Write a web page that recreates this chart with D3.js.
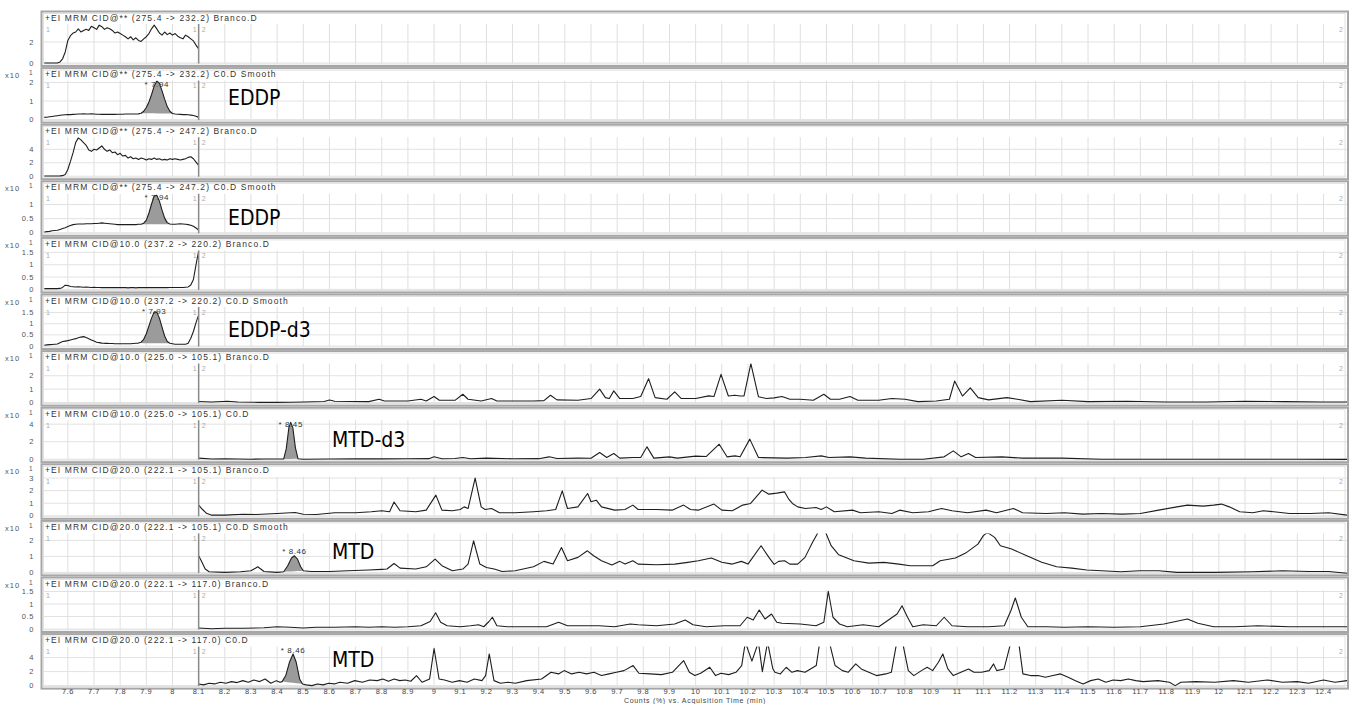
<!DOCTYPE html>
<html>
<head>
<meta charset="utf-8">
<script src="https://cdn.jsdelivr.net/npm/d3@7/dist/d3.min.js"></script>
<style>
    body { margin: 0; background: #fff; }
    svg { display: block; font-family: 'Liberation Sans', Arial, sans-serif; }
</style>
</head>
<body>
<svg id="chart" width="1352" height="704"></svg>
<script>
// ---- data ----
const titles = [
    '+EI MRM CID@** (275.4 -> 232.2) Branco.D',
    '+EI MRM CID@** (275.4 -> 232.2) C0.D  Smooth',
    '+EI MRM CID@** (275.4 -> 247.2) Branco.D',
    '+EI MRM CID@** (275.4 -> 247.2) C0.D  Smooth',
    '+EI MRM CID@10.0 (237.2 -> 220.2) Branco.D',
    '+EI MRM CID@10.0 (237.2 -> 220.2) C0.D  Smooth',
    '+EI MRM CID@10.0 (225.0 -> 105.1) Branco.D',
    '+EI MRM CID@10.0 (225.0 -> 105.1) C0.D',
    '+EI MRM CID@20.0 (222.1 -> 105.1) Branco.D',
    '+EI MRM CID@20.0 (222.1 -> 105.1) C0.D  Smooth',
    '+EI MRM CID@20.0 (222.1 -> 117.0) Branco.D',
    '+EI MRM CID@20.0 (222.1 -> 117.0) C0.D'
];
const times10 = [false, true, false, true, true, true, true, true, true, true, true, false];
const yMax = [3.71, 2.1, 5.8, 1.38, 1.58, 1.75, 2.9, 4.45, 3.1, 2.44, 1.56, 5.57];
const yTicks = [[0, 2], [0, 1, 2], [0, 2, 4], [0, 0.5, 1], [0, 0.5, 1, 1.5], [0, 0.5, 1, 1.5],
    [0, 1, 2], [0, 2, 4], [0, 1, 2, 3], [0, 1, 2], [0, 0.5, 1, 1.5], [0, 2, 4]];
const xTicks = [7.6, 7.7, 7.8, 7.9, 8, 8.1, 8.2, 8.3, 8.4, 8.5, 8.6, 8.7, 8.8, 8.9, 9, 9.1, 9.2, 9.3, 9.4,
    9.5, 9.6, 9.7, 9.8, 9.9, 10, 10.1, 10.2, 10.3, 10.4, 10.5, 10.6, 10.7, 10.8, 10.9, 11, 11.1, 11.2,
    11.3, 11.4, 11.5, 11.6, 11.7, 11.8, 11.9, 12, 12.1, 12.2, 12.3, 12.4];

// segment 1 (7.51 - 8.10 min)
const seg1Times = [7.51, 7.52, 7.53, 7.54, 7.55, 7.56, 7.57, 7.58, 7.59, 7.60, 7.61, 7.62, 7.63, 7.64, 7.65,
    7.66, 7.67, 7.68, 7.69, 7.70, 7.71, 7.72, 7.73, 7.74, 7.75, 7.76, 7.77, 7.78, 7.79, 7.80, 7.81, 7.82,
    7.83, 7.84, 7.85, 7.86, 7.87, 7.88, 7.89, 7.90, 7.91, 7.92, 7.93, 7.94, 7.95, 7.96, 7.97, 7.98, 7.99,
    8.00, 8.01, 8.02, 8.03, 8.04, 8.05, 8.06, 8.07, 8.08, 8.09, 8.10];
const eddpBlank1 = [0, 0, 0, 0, 0, 0, 0.1, 0.4, 1.05, 2.15, 2.6, 2.85, 2.95, 3.25, 2.95, 3.1, 3.2, 3.1, 3.5, 3.35,
    3.2, 3.6, 3.45, 3.2, 3.35, 3.25, 3.1, 2.85, 2.95, 2.8, 2.65, 2.5, 2.3, 2.5, 2.2, 2.4, 2.15, 2.05, 2.3, 2.5,
    2.8, 3.25, 3.6, 3.25, 2.85, 2.65, 2.95, 2.7, 2.85, 2.65, 2.8, 2.55, 2.4, 2.3, 2.65, 2.5, 2.3, 2.1, 1.7, 1.35];
const eddpC01 = [0.12, 0.13, 0.15, 0.17, 0.19, 0.21, 0.23, 0.25, 0.26, 0.27, 0.27, 0.28, 0.29, 0.30, 0.30, 0.31,
    0.30, 0.30, 0.31, 0.30, 0.29, 0.29, 0.28, 0.28, 0.28, 0.28, 0.28, 0.28, 0.29, 0.29, 0.29, 0.30, 0.30, 0.30,
    0.30, 0.30, 0.31, 0.34, 0.45, 0.65, 0.95, 1.35, 1.80, 2.08, 1.95, 1.55, 1.10, 0.70, 0.45, 0.33, 0.30, 0.29,
    0.28, 0.27, 0.27, 0.26, 0.24, 0.22, 0.18, 0.12];
const eddpBlank2 = [0.02, 0.02, 0.02, 0.02, 0.02, 0.03, 0.05, 0.08, 0.25, 1.0, 2.2, 3.5, 5.0, 5.7, 5.4, 5.0, 4.6,
    3.9, 3.7, 4.0, 3.9, 4.2, 4.5, 4.0, 3.7, 3.9, 3.5, 3.6, 3.2, 3.4, 3.0, 3.1, 2.7, 2.9, 2.6, 2.7, 2.5, 2.7, 2.6,
    2.4, 2.6, 2.5, 2.7, 2.5, 2.6, 2.4, 2.5, 2.4, 2.6, 2.5, 2.6, 2.5, 2.4, 2.5, 2.6, 2.8, 2.9, 2.6, 2.1, 1.6];
const eddpC02 = [0.03, 0.04, 0.05, 0.07, 0.08, 0.09, 0.12, 0.15, 0.18, 0.22, 0.26, 0.29, 0.30, 0.31, 0.31, 0.31,
    0.32, 0.32, 0.32, 0.33, 0.33, 0.34, 0.35, 0.34, 0.33, 0.32, 0.31, 0.30, 0.29, 0.29, 0.29, 0.29, 0.29, 0.29,
    0.29, 0.29, 0.30, 0.30, 0.34, 0.45, 0.70, 1.02, 1.30, 1.33, 1.12, 0.80, 0.52, 0.36, 0.31, 0.30, 0.30, 0.31,
    0.32, 0.31, 0.30, 0.29, 0.27, 0.23, 0.17, 0.10];
const eddpD3Blank = [0.03, 0.03, 0.03, 0.03, 0.03, 0.03, 0.04, 0.08, 0.17, 0.16, 0.12, 0.11, 0.10, 0.11, 0.10,
    0.09, 0.10, 0.09, 0.08, 0.09, 0.08, 0.08, 0.07, 0.08, 0.07, 0.07, 0.08, 0.07, 0.07, 0.07, 0.07, 0.07, 0.06,
    0.07, 0.07, 0.06, 0.07, 0.07, 0.07, 0.07, 0.07, 0.07, 0.07, 0.08, 0.07, 0.07, 0.08, 0.07, 0.08, 0.08, 0.08,
    0.08, 0.08, 0.08, 0.09, 0.10, 0.18, 0.40, 1.00, 1.55];
const eddpD3C0 = [0.03, 0.05, 0.06, 0.07, 0.08, 0.09, 0.15, 0.20, 0.22, 0.24, 0.27, 0.30, 0.33, 0.37, 0.40, 0.42,
    0.38, 0.33, 0.27, 0.22, 0.17, 0.15, 0.13, 0.12, 0.12, 0.11, 0.11, 0.10, 0.10, 0.10, 0.10, 0.10, 0.10, 0.10,
    0.11, 0.12, 0.13, 0.17, 0.30, 0.55, 0.90, 1.25, 1.53, 1.52, 1.25, 0.85, 0.45, 0.20, 0.12, 0.10, 0.08, 0.08,
    0.08, 0.08, 0.08, 0.12, 0.35, 0.65, 1.05, 1.40];

// segment 2 (8.10 - 12.49 min), [time, counts]
const mtdD3Blank = [[8.10, 0.08], [8.15, 0.05], [8.21, 0.1], [8.25, 0.05], [8.33, 0.02], [8.40, 0.02], [8.45, 0.03],
    [8.5, 0.05], [8.58, 0.08], [8.60, 0.2], [8.62, 0.1], [8.68, 0.08], [8.75, 0.07], [8.79, 0.25], [8.81, 0.12],
    [8.9, 0.12], [8.95, 0.25], [8.97, 0.12], [9.0, 0.45], [9.02, 0.17], [9.08, 0.17], [9.11, 0.62], [9.13, 0.25],
    [9.18, 0.12], [9.22, 0.3], [9.24, 0.12], [9.3, 0.12], [9.38, 0.12], [9.42, 0.15], [9.445, 0.55], [9.47, 0.2],
    [9.55, 0.17], [9.6, 0.3], [9.633, 1.0], [9.655, 0.37], [9.67, 0.3], [9.687, 0.87], [9.71, 0.3], [9.76, 0.3],
    [9.79, 0.45], [9.82, 1.78], [9.845, 0.37], [9.89, 0.25], [9.92, 0.8], [9.945, 0.3], [10.0, 0.3], [10.05, 0.5],
    [10.07, 0.45], [10.097, 2.1], [10.125, 0.49], [10.15, 0.55], [10.17, 0.49], [10.185, 0.5], [10.211, 2.9],
    [10.24, 0.44], [10.27, 0.3], [10.3, 0.35], [10.33, 0.45], [10.36, 0.25], [10.4, 0.25], [10.45, 0.17],
    [10.49, 0.62], [10.515, 0.25], [10.55, 0.25], [10.59, 0.45], [10.62, 0.17], [10.7, 0.17], [10.75, 0.3],
    [10.8, 0.25], [10.85, 0.07], [10.92, 0.12], [10.97, 0.25], [10.99, 1.6], [11.02, 0.49], [11.05, 1.1],
    [11.08, 0.37], [11.12, 0.2], [11.19, 0.37], [11.23, 0.25], [11.28, 0.07], [11.4, 0.17], [11.5, 0.07],
    [11.65, 0.1], [11.8, 0.05], [11.95, 0.05], [12.1, 0.1], [12.25, 0.07], [12.4, 0.05], [12.49, 0.05]];
const mtdD3C0 = [[8.10, 0.12], [8.15, 0.02], [8.2, 0.05], [8.25, 0.02], [8.3, 0], [8.35, 0.02], [8.40, 0.02],
    [8.425, 0.02], [8.435, 1.2], [8.445, 3.6], [8.452, 4.2], [8.46, 3.6], [8.47, 1.3], [8.48, 0.05], [8.5, 0],
    [8.6, 0.02], [8.7, 0.04], [8.8, 0.04], [8.9, 0.05], [8.98, 0.06], [9.0, 0.27], [9.03, 0.05], [9.08, 0.08],
    [9.11, 0.19], [9.14, 0.05], [9.2, 0.12], [9.3, 0.05], [9.4, 0.06], [9.44, 0.27], [9.47, 0.08], [9.55, 0.12],
    [9.6, 0.1], [9.633, 0.76], [9.66, 0.19], [9.687, 0.65], [9.71, 0.12], [9.76, 0.19], [9.79, 0.2], [9.814, 1.41],
    [9.84, 0.12], [9.9, 0.27], [9.93, 0.12], [10.0, 0.35], [10.04, 0.3], [10.09, 1.71], [10.12, 0.27],
    [10.15, 0.38], [10.17, 0.27], [10.207, 2.29], [10.24, 0.19], [10.3, 0.15], [10.35, 0.12], [10.42, 0.2],
    [10.48, 0.38], [10.51, 0.19], [10.59, 0.27], [10.65, 0.12], [10.78, 0], [10.87, 0], [10.95, 0.27],
    [10.985, 0.95], [11.015, 0.27], [11.043, 0.65], [11.07, 0.19], [11.17, 0.27], [11.25, 0.12], [11.4, 0.12],
    [11.55, 0], [11.7, 0], [11.85, 0], [12.0, 0], [12.15, 0], [12.3, 0], [12.49, -0.02]];
const mtdBlank105 = [[8.10, 0.85], [8.115, 0.5], [8.13, 0.2], [8.15, 0.05], [8.2, 0.05], [8.27, 0.12], [8.32, 0.1],
    [8.4, 0.18], [8.469, 0.26], [8.5, 0.12], [8.55, 0.1], [8.62, 0.24], [8.7, 0.24], [8.76, 0.32], [8.8, 0.4],
    [8.83, 0.32], [8.847, 1.1], [8.87, 0.4], [8.93, 0.32], [8.97, 0.45], [9.007, 1.64], [9.03, 0.45], [9.07, 0.4],
    [9.1, 0.5], [9.115, 0.71], [9.13, 0.58], [9.157, 3.0], [9.18, 0.71], [9.195, 0.5], [9.22, 0.58], [9.25, 0.24],
    [9.31, 0.24], [9.38, 0.32], [9.43, 0.4], [9.465, 0.5], [9.49, 1.98], [9.51, 0.58], [9.55, 0.71], [9.587, 1.77],
    [9.6, 1.12], [9.62, 1.24], [9.64, 0.71], [9.69, 0.45], [9.73, 0.5], [9.76, 0.85], [9.78, 0.5], [9.85, 0.5],
    [9.91, 0.45], [9.954, 0.85], [9.98, 0.5], [10.01, 0.45], [10.07, 0.93], [10.1, 0.45], [10.14, 0.4],
    [10.18, 0.85], [10.21, 0.98], [10.254, 2.04], [10.28, 1.72], [10.31, 1.8], [10.34, 1.9], [10.355, 1.35],
    [10.37, 0.98], [10.39, 0.71], [10.42, 0.58], [10.46, 0.66], [10.48, 0.5], [10.5, 0.71], [10.53, 0.32],
    [10.6, 0.45], [10.63, 0.24], [10.7, 0.32], [10.75, 0.18], [10.78, 0.45], [10.83, 0.24], [10.89, 0.32],
    [10.94, 0.58], [10.98, 0.4], [11.04, 0.24], [11.11, 0.45], [11.15, 0.24], [11.215, 0.58], [11.25, 0.24],
    [11.34, 0.18], [11.41, 0.24], [11.48, 0.13], [11.55, 0.18], [11.63, 0.13], [11.7, 0.18], [11.77, 0.45],
    [11.84, 0.71], [11.88, 0.85], [11.94, 0.77], [11.98, 0.85], [12.01, 0.93], [12.04, 0.71], [12.08, 0.32],
    [12.13, 0.24], [12.17, 0.4], [12.21, 0.32], [12.27, 0.18], [12.35, 0.18], [12.42, 0.24], [12.49, 0.05]];
const mtdC0105 = [[8.10, 1.04], [8.11, 0.73], [8.125, 0.21], [8.14, 0.04], [8.2, 0], [8.26, 0.04], [8.3, 0.1],
    [8.326, 0.35], [8.35, 0.06], [8.4, 0], [8.425, 0.04], [8.44, 0.4], [8.455, 0.9], [8.466, 1.04], [8.478, 0.83],
    [8.49, 0.35], [8.5, 0.1], [8.53, 0.06], [8.6, 0.06], [8.67, 0.1], [8.75, 0.15], [8.8, 0.19], [8.82, 0.21],
    [8.847, 0.56], [8.87, 0.27], [8.93, 0.21], [8.97, 0.35], [9.004, 0.83], [9.03, 0.42], [9.07, 0.1], [9.11, 0.21],
    [9.13, 0.52], [9.151, 1.98], [9.175, 0.52], [9.2, 0.31], [9.23, 0.21], [9.26, 0.06], [9.31, 0.1], [9.38, 0.35],
    [9.42, 0.69], [9.455, 0.52], [9.487, 1.56], [9.51, 0.73], [9.55, 0.94], [9.586, 1.35], [9.61, 1.04],
    [9.64, 0.73], [9.68, 0.46], [9.71, 0.69], [9.73, 0.52], [9.76, 0.73], [9.78, 0.52], [9.85, 0.48], [9.92, 0.52],
    [9.97, 0.63], [10.01, 0.73], [10.06, 0.9], [10.1, 0.63], [10.14, 0.52], [10.175, 0.69], [10.2, 0.52],
    [10.25, 1.67], [10.28, 0.94], [10.3, 0.5], [10.317, 0.69], [10.34, 0.73], [10.36, 0.52], [10.39, 0.52],
    [10.418, 0.94], [10.447, 1.88], [10.468, 2.5], [10.483, 2.65], [10.497, 2.5], [10.518, 1.67], [10.547, 1.1],
    [10.605, 0.73], [10.662, 0.58], [10.72, 0.63], [10.777, 0.52], [10.82, 0.42], [10.863, 0.42], [10.906, 0.42],
    [10.935, 0.73], [10.993, 0.9], [11.036, 1.25], [11.079, 1.77], [11.1, 2.3], [11.115, 2.5], [11.143, 2.19],
    [11.165, 1.67], [11.208, 1.46], [11.266, 1.04], [11.323, 0.63], [11.38, 0.35], [11.438, 0.27], [11.495, 0.15],
    [11.552, 0.1], [11.625, 0.04], [11.697, 0.1], [11.77, 0.1], [11.84, 0], [11.984, 0], [12.128, 0.04],
    [12.243, 0.1], [12.343, 0.06], [12.42, 0.06], [12.49, -0.05]];
const mtdBlank117 = [[8.10, 0.04], [8.15, 0.01], [8.2, 0.03], [8.27, 0.03], [8.35, 0.05], [8.4, 0.09], [8.45, 0.07],
    [8.5, 0.04], [8.55, 0.07], [8.62, 0.07], [8.7, 0.09], [8.75, 0.07], [8.8, 0.09], [8.85, 0.07], [8.9, 0.09],
    [8.95, 0.13], [8.985, 0.3], [9.006, 0.65], [9.025, 0.27], [9.05, 0.13], [9.1, 0.09], [9.14, 0.13], [9.17, 0.17],
    [9.19, 0.09], [9.21, 0.3], [9.223, 0.47], [9.24, 0.13], [9.28, 0.09], [9.35, 0.09], [9.43, 0.09], [9.476, 0.27],
    [9.51, 0.13], [9.58, 0.13], [9.63, 0.13], [9.69, 0.09], [9.75, 0.2], [9.78, 0.17], [9.85, 0.13], [9.92, 0.2],
    [9.96, 0.36], [9.99, 0.17], [10.04, 0.09], [10.11, 0.13], [10.17, 0.13], [10.197, 0.47], [10.22, 0.36],
    [10.243, 0.76], [10.265, 0.4], [10.29, 0.6], [10.31, 0.27], [10.33, 0.23], [10.4, 0.2], [10.46, 0.13],
    [10.49, 0.27], [10.507, 1.51], [10.525, 0.47], [10.55, 0.2], [10.58, 0.09], [10.64, 0.17], [10.7, 0.09],
    [10.77, 0.6], [10.789, 0.93], [10.81, 0.47], [10.83, 0.09], [10.87, 0.17], [10.92, 0.13], [10.95, 0.47],
    [10.98, 0.13], [11.04, 0.09], [11.12, 0.09], [11.18, 0.13], [11.205, 0.73], [11.222, 1.24], [11.245, 0.47],
    [11.27, 0.09], [11.34, 0.09], [11.41, 0.07], [11.5, 0.09], [11.6, 0.07], [11.7, 0.09], [11.79, 0.2],
    [11.88, 0.4], [11.92, 0.23], [11.98, 0.09], [12.06, 0.09], [12.15, 0.13], [12.27, 0.09], [12.4, 0.09],
    [12.49, 0.09]];
const mtdC0117 = [[8.1, 0.24], [8.119, 0.1], [8.14, 0.33], [8.161, 0.24], [8.183, 0.48], [8.204, 0.33],
    [8.226, 0.57], [8.247, 0.43], [8.269, 0.71], [8.29, 0.48], [8.311, 0.81], [8.333, 0.57], [8.354, 0.95],
    [8.376, 0.33], [8.397, 0.71], [8.411, 0.48], [8.419, 0.57], [8.433, 1.43], [8.447, 3.33], [8.461, 4.52],
    [8.473, 3.33], [8.486, 0.95], [8.497, 0.24], [8.511, 0.1], [8.533, 0], [8.554, 0.24], [8.576, 0.1],
    [8.597, 0.33], [8.619, 0.24], [8.64, 0.48], [8.669, 0.33], [8.697, 0.71], [8.726, 0.48], [8.754, 0.81],
    [8.783, 0.71], [8.804, 0.95], [8.826, 0.62], [8.847, 0.95], [8.869, 0.71], [8.89, 0.81], [8.911, 0.62],
    [8.933, 1.43], [8.954, 0.48], [8.983, 0.95], [9.0, 5.3], [9.019, 0.95], [9.04, 0.81], [9.069, 0.48],
    [9.097, 0.71], [9.126, 0.48], [9.154, 0.95], [9.183, 0.71], [9.197, 1.43], [9.211, 4.52], [9.229, 0.71],
    [9.254, 0.33], [9.283, 0.48], [9.311, 0.33], [9.354, 0.71], [9.411, 0.95], [9.447, 1.9], [9.476, 1.67],
    [9.497, 2.14], [9.526, 1.67], [9.554, 1.9], [9.583, 1.67], [9.611, 1.9], [9.64, 1.43], [9.669, 1.67],
    [9.697, 1.9], [9.726, 2.14], [9.761, 2.86], [9.783, 1.76], [9.826, 1.67], [9.869, 1.57], [9.911, 1.9],
    [9.954, 3.57], [9.976, 1.9], [9.997, 1.43], [10.019, 1.76], [10.054, 2.62], [10.076, 1.43], [10.097, 1.76],
    [10.126, 1.57], [10.154, 1.9], [10.176, 2.86], [10.19, 6.2], [10.215, 3.5], [10.24, 6.2], [10.255, 2.0],
    [10.275, 6.2], [10.295, 2.4], [10.303, 1.9], [10.324, 1.67], [10.346, 2.62], [10.368, 1.9], [10.389, 2.14],
    [10.418, 1.9], [10.439, 2.38], [10.461, 2.86], [10.472, 5.6], [10.49, 8], [10.515, 5.6], [10.533, 2.86],
    [10.561, 2.14], [10.583, 1.9], [10.612, 3.1], [10.633, 2.38], [10.662, 1.9], [10.691, 1.43], [10.727, 1.67],
    [10.748, 1.9], [10.766, 5.6], [10.78, 8], [10.794, 5.6], [10.813, 2.14], [10.834, 1.43], [10.863, 2.14],
    [10.885, 2.62], [10.906, 2.14], [10.928, 3.33], [10.945, 4.52], [10.964, 2.38], [10.985, 1.43], [11.014, 1.9],
    [11.043, 2.38], [11.064, 1.9], [11.093, 1.9], [11.122, 2.14], [11.139, 3.1], [11.151, 2.14], [11.179, 2.38],
    [11.201, 5.6], [11.218, 8], [11.237, 5.6], [11.251, 1.67], [11.28, 1.43], [11.309, 1.43], [11.337, 1.19],
    [11.366, 1.43], [11.395, 1.67], [11.424, 1.19], [11.452, 0.71], [11.481, 0.24], [11.51, 0.71], [11.539, 0.95],
    [11.568, 0.48], [11.596, 0.81], [11.625, 0.71], [11.654, 0.95], [11.682, 0.71], [11.711, 0.57], [11.768, 0.71],
    [11.811, 0.48], [11.833, 0], [11.855, 0.48], [11.912, 0.57], [11.984, 0.48], [12.056, 0.71], [12.113, 0.48],
    [12.185, 0.81], [12.243, 0.48], [12.3, 0.57], [12.343, 0.33], [12.4, 0.81], [12.444, 0.48], [12.49, 0.71]];

// integrated peaks: panel, start, end, retention time label
const peaks = [
    {panel: 1, from: 7.88, to: 8.00, rt: '* 7.94'},
    {panel: 3, from: 7.88, to: 8.00, rt: '* 7.94'},
    {panel: 5, from: 7.87, to: 7.99, rt: '* 7.93'},
    {panel: 7, from: 8.425, to: 8.48, rt: '* 8.45'},
    {panel: 9, from: 8.425, to: 8.50, rt: '* 8.46'},
    {panel: 11, from: 8.419, to: 8.497, rt: '* 8.46'}
];
const compounds = ['EDDP', 'EDDP', 'EDDP-d3', 'MTD-d3', 'MTD', 'MTD'];
const compoundPanels = [1, 3, 5, 7, 9, 11];

// ---- layout ----
const zip = vals => vals.map((v, i) => [seg1Times[i], v]);
const traces = [zip(eddpBlank1), zip(eddpC01), zip(eddpBlank2), zip(eddpC02), zip(eddpD3Blank), zip(eddpD3C0),
    mtdD3Blank, mtdD3C0, mtdBlank105, mtdC0105, mtdBlank117, mtdC0117];
const compoundPos = [[228, 36.9], [228, 43.7], [228, 42.5], [332, 39], [332, 38.1], [332, 32.9]];

const svg = d3.select('#chart');
const plotLeft = 43, plotRight = 1347, top0 = 11.5, pitch = 56.6;
const x = d3.scaleLinear().domain([7.505, 12.49]).range([plotLeft, plotRight]);
const fmt = d3.format('~g');

function drawPanel(i){
    let top = top0 + i * pitch,
        y = d3.scaleLinear().domain([0, yMax[i]]).range([top + 51.5, top + 12.5]),
        g = svg.append('g').attr('class', 'panel');

    // frame (double grey rule like the original)
    g.append('rect')
        .attr('x', 41.5).attr('y', top).attr('width', plotRight - 41.5 + 1).attr('height', 54.5)
        .attr('fill', 'none').attr('stroke', '#a6a6a6').attr('stroke-width', 2);
    g.append('rect')
        .attr('x', 43.5).attr('y', top + 2).attr('width', plotRight - 45.5).attr('height', 50.5)
        .attr('fill', 'none').attr('stroke', '#dadada').attr('stroke-width', 0.8);

    // grid
    g.selectAll('line.vgrid').data(xTicks).enter().append('line')
        .attr('x1', d => x(d)).attr('x2', d => x(d))
        .attr('y1', top + 12.5).attr('y2', top + 52)
        .attr('stroke', '#dfdfdf').attr('stroke-width', 1);
    g.selectAll('line.hgrid').data(yTicks[i]).enter().append('line')
        .attr('x1', plotLeft).attr('x2', plotRight)
        .attr('y1', d => y(d)).attr('y2', d => y(d))
        .attr('stroke', '#e2e2e2').attr('stroke-width', 1);

    // y tick labels
    g.selectAll('text.ytick').data(yTicks[i]).enter().append('text')
        .attr('x', 34).attr('y', d => y(d)).attr('dy', '0.35em')
        .attr('text-anchor', 'end').attr('font-size', 7.5).attr('fill', '#555')
        .attr('letter-spacing', 0.6)
        .text(d => fmt(d));

    if(times10[i]){
        g.append('text').attr('x', 5).attr('y', top + 10).attr('font-size', 7.5).attr('fill', '#555')
            .attr('letter-spacing', 1).text('x10');
        g.append('text').attr('x', 29).attr('y', top + 7).attr('font-size', 6.5).attr('fill', '#555').text('1');
    }

    // title + segment markers
    g.append('text').attr('x', 45).attr('y', top + 9).attr('font-size', 8.5).attr('fill', '#333')
        .attr('letter-spacing', 1.1).text(titles[i]);
    let seg = g.append('g').attr('font-size', 7).attr('fill', '#aaa');
    seg.append('text').attr('x', 46).attr('y', top + 20).text('1');
    seg.append('text').attr('x', x(8.1) - 6).attr('y', top + 20).text('1');
    seg.append('text').attr('x', x(8.1) + 3).attr('y', top + 20).text('2');
    seg.append('text').attr('x', plotRight - 8).attr('y', top + 20).text('2');

    // trace, clipped to the plot area
    let clipId = 'clip' + i;
    svg.append('clipPath').attr('id', clipId).append('rect')
        .attr('x', plotLeft).attr('y', top + 12.5).attr('width', plotRight - plotLeft).attr('height', 40.5);
    let plot = g.append('g').attr('clip-path', `url(#${clipId})`);

    peaks.filter(p => p.panel === i).forEach(p => {
        let pts = traces[i].filter(d => d[0] >= p.from - 1e-9 && d[0] <= p.to + 1e-9),
            a = pts[0], b = pts[pts.length - 1],
            base = t => a[1] + (b[1] - a[1]) * (t - a[0]) / (b[0] - a[0]);
        plot.append('path')
            .attr('d', d3.area().x(d => x(d[0])).y0(d => y(base(d[0]))).y1(d => y(d[1]))(pts))
            .attr('fill', '#9b9b9b');
        let apex = d3.max(pts, d => d[1]);
        g.append('text')
            .attr('x', x(pts.find(d => d[1] === apex)[0]))
            .attr('y', Math.max(top + 19, y(apex) - 2))
            .attr('text-anchor', 'middle').attr('font-size', 8).attr('fill', '#333')
            .attr('letter-spacing', 0.6)
            .text(p.rt);
    });

    plot.append('path')
        .attr('d', d3.line().x(d => x(d[0])).y(d => y(d[1]))(traces[i]))
        .attr('fill', 'none').attr('stroke', '#1e1e1e').attr('stroke-width', 1.1)
        .attr('stroke-linejoin', 'round');

    // segment boundary
    g.append('line')
        .attr('x1', x(8.1)).attr('x2', x(8.1)).attr('y1', top + 12.5).attr('y2', top + 52)
        .attr('stroke', '#8a8a8a').attr('stroke-width', 1.5);
}

titles.forEach((t, i) => drawPanel(i));

// compound labels
compounds.forEach((c, k) => {
    let i = compoundPanels[k];
    svg.append('text')
        .attr('x', compoundPos[k][0]).attr('y', top0 + i * pitch + compoundPos[k][1])
        .attr('font-family', "'DejaVu Sans Condensed', 'DejaVu Sans', sans-serif")
        .attr('font-stretch', 'condensed')
        .attr('font-size', 21).attr('fill', '#000')
        .text(c);
});

// x axis
svg.append('g').selectAll('text').data(xTicks).enter().append('text')
    .attr('x', d => x(d)).attr('y', 693.5).attr('text-anchor', 'middle')
    .attr('font-size', 7.5).attr('fill', '#444').attr('letter-spacing', 0.5)
    .text(d => fmt(d));
svg.append('text')
    .attr('x', (plotLeft + plotRight) / 2).attr('y', 702.5).attr('text-anchor', 'middle')
    .attr('font-size', 7).attr('fill', '#444').attr('letter-spacing', 0.7)
    .text('Counts (%) vs. Acquisition Time (min)');
</script>
</body>
</html>
